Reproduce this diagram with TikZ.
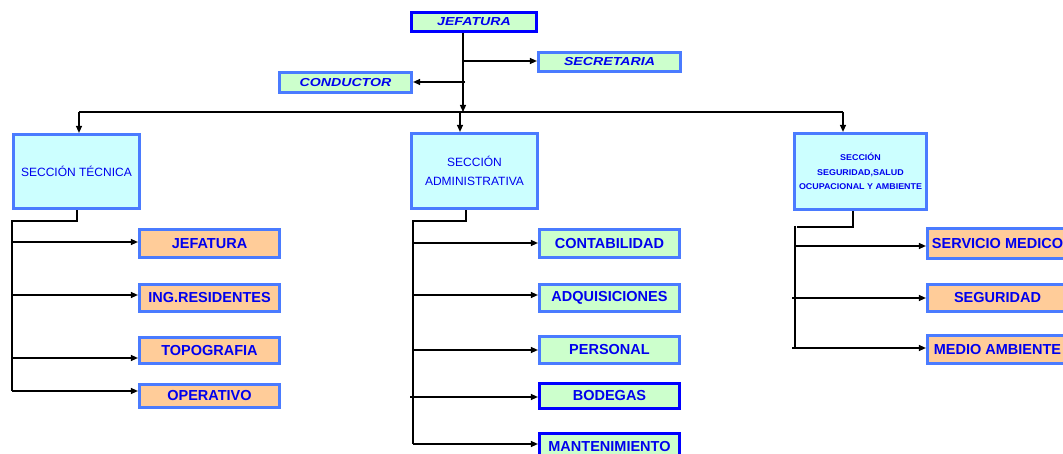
\documentclass[tikz,border=0pt]{standalone}
\usepackage{fontspec}
\setmainfont{Liberation Sans}
\newfontfamily\widefont[FakeStretch=1.22]{Liberation Sans}
\newfontfamily\smallwide[FakeStretch=1.06]{Liberation Sans}
\usetikzlibrary{arrows.meta}
\definecolor{dkb}{HTML}{0000FF}
\definecolor{ltb}{HTML}{4A7BFF}
\definecolor{txb}{HTML}{0000EE}
\definecolor{gfill}{HTML}{CCFFCC}
\definecolor{cfill}{HTML}{CCFFFF}
\definecolor{pfill}{HTML}{FFCC99}
\begin{document}
\begin{tikzpicture}[x=1pt,y=-1pt,
  box/.style={draw, line width=3.2pt, inner sep=0pt, text=txb, align=center},
  dk/.style={box, draw=dkb},
  lt/.style={box, draw=ltb},
  topf/.style={font=\widefont\bfseries\itshape\fontsize{11.6}{13}\selectfont},
  childf/.style={font=\bfseries\fontsize{14.5}{15}\selectfont},
  secf/.style={font=\fontsize{12}{19}\selectfont},
  smallf/.style={font=\smallwide\bfseries\fontsize{8.4}{14.5}\selectfont},
  child/.style={minimum width=140pt, minimum height=#1},
  ln/.style={draw=black, line width=1.2pt},
  arr/.style={ln, -{Triangle[length=7pt,width=6pt]}}]
\useasboundingbox (0,0) rectangle (1063,454);
\clip (0,0) rectangle (1063,454);
\fill[white] (0,0) rectangle (1063,454);

% top level
\node[dk, fill=gfill, minimum width=125pt, minimum height=19pt, topf] (jef) at (474,22) {JEFATURA};
\node[lt, fill=gfill, minimum width=142pt, minimum height=19pt, topf] (sec) at (609.5,62) {SECRETARIA};
\node[lt, fill=gfill, minimum width=132pt, minimum height=20pt, topf] (cond) at (345.5,82.5) {CONDUCTOR};

% sections
\node[lt, fill=cfill, minimum width=126pt, minimum height=74pt, secf] (st) at (76.5,171.5) {SECCIÓN TÉCNICA};
\node[lt, fill=cfill, minimum width=126pt, minimum height=75pt, secf] (sa) at (474.5,171) {SECCIÓN\\ADMINISTRATIVA};
\node[lt, fill=cfill, minimum width=132pt, minimum height=76pt, smallf] (ss) at (860.5,171.5) {SECCIÓN\\SEGURIDAD,SALUD\\OCUPACIONAL Y AMBIENTE};

% children of section 1
\node[lt, fill=pfill, child=28pt, childf] (j1) at (209.5,243.5) {JEFATURA};
\node[lt, fill=pfill, child=27pt, childf] (ing) at (209.5,298) {ING.RESIDENTES};
\node[lt, fill=pfill, child=26pt, childf] (topo) at (209.5,350.5) {TOPOGRAFIA};
\node[lt, fill=pfill, child=23pt, childf] (oper) at (209.5,396) {OPERATIVO};

% children of section 2
\node[lt, fill=gfill, child=28pt, childf] (cont) at (609.5,243.5) {CONTABILIDAD};
\node[lt, fill=gfill, child=27pt, childf] (adq) at (609.5,298) {ADQUISICIONES};
\node[lt, fill=gfill, child=27pt, childf] (pers) at (609.5,350) {PERSONAL};
\node[dk, fill=gfill, child=25pt, childf] (bod) at (609.5,396) {BODEGAS};
\node[dk, fill=gfill, child=26pt, childf] (mant) at (609.5,446.5) {MANTENIMIENTO};

% children of section 3
\node[lt, fill=pfill, child=30pt, childf] (smed) at (997.5,243.5) {SERVICIO MEDICO};
\node[lt, fill=pfill, child=27pt, childf] (seg) at (997.5,298) {SEGURIDAD};
\node[lt, fill=pfill, child=28pt, childf] (mam) at (997.5,349.5) {MEDIO AMBIENTE};

% top connectors
\coordinate (h0) at (463,112);
\coordinate (bs) at (463,61);
\coordinate (bc) at (465,82);
\draw[arr] (jef.south -| h0) -- (h0);
\draw[arr] (bs) -- (bs -| sec.west);
\draw[arr] (bc) -- (bc -| cond.east);
\coordinate (hl) at (79,112);
\coordinate (hr) at (843,112);
\coordinate (hm) at (460,112);
\draw[ln] (hl) -- (hr);
\draw[arr] (hl) -- (hl |- st.north);
\draw[arr] (hm) -- (hm |- sa.north);
\draw[arr] (hr) -- (hr |- ss.north);

% section 1 tree
\coordinate (t1a) at (77,221);
\coordinate (t1b) at (12,221);
\coordinate (t1c) at (12,391);
\draw[ln] (t1a |- st.south) -- (t1a) -- (t1b) -- (t1c);
\foreach \n/\y in {j1/242, ing/295, topo/358, oper/391}{
  \coordinate (b\n) at (12,\y);
  \draw[arr] (b\n) -- (b\n -| \n.west);
}

% section 2 tree
\coordinate (t2a) at (466,221);
\coordinate (t2b) at (413,221);
\coordinate (t2c) at (413,444);
\draw[ln] (t2a |- sa.south) -- (t2a) -- (t2b) -- (t2c);
\foreach \n/\y/\x in {cont/243/413, adq/295/413, pers/350/413, bod/397/410, mant/444/413}{
  \coordinate (b\n) at (\x,\y);
  \draw[arr] (b\n) -- (b\n -| \n.west);
}

% section 3 tree
\coordinate (t3a) at (853,227);
\coordinate (t3b) at (797,227);
\coordinate (t3c) at (795,226);
\coordinate (t3d) at (795,348);
\draw[ln] (t3a |- ss.south) -- (t3a) -- (t3b);
\draw[ln] (t3c) -- (t3d);
\foreach \n/\y/\x in {smed/246/795, seg/298/792, mam/348/792}{
  \coordinate (b\n) at (\x,\y);
  \draw[arr] (b\n) -- (b\n -| \n.west);
}
\end{tikzpicture}
\end{document}
